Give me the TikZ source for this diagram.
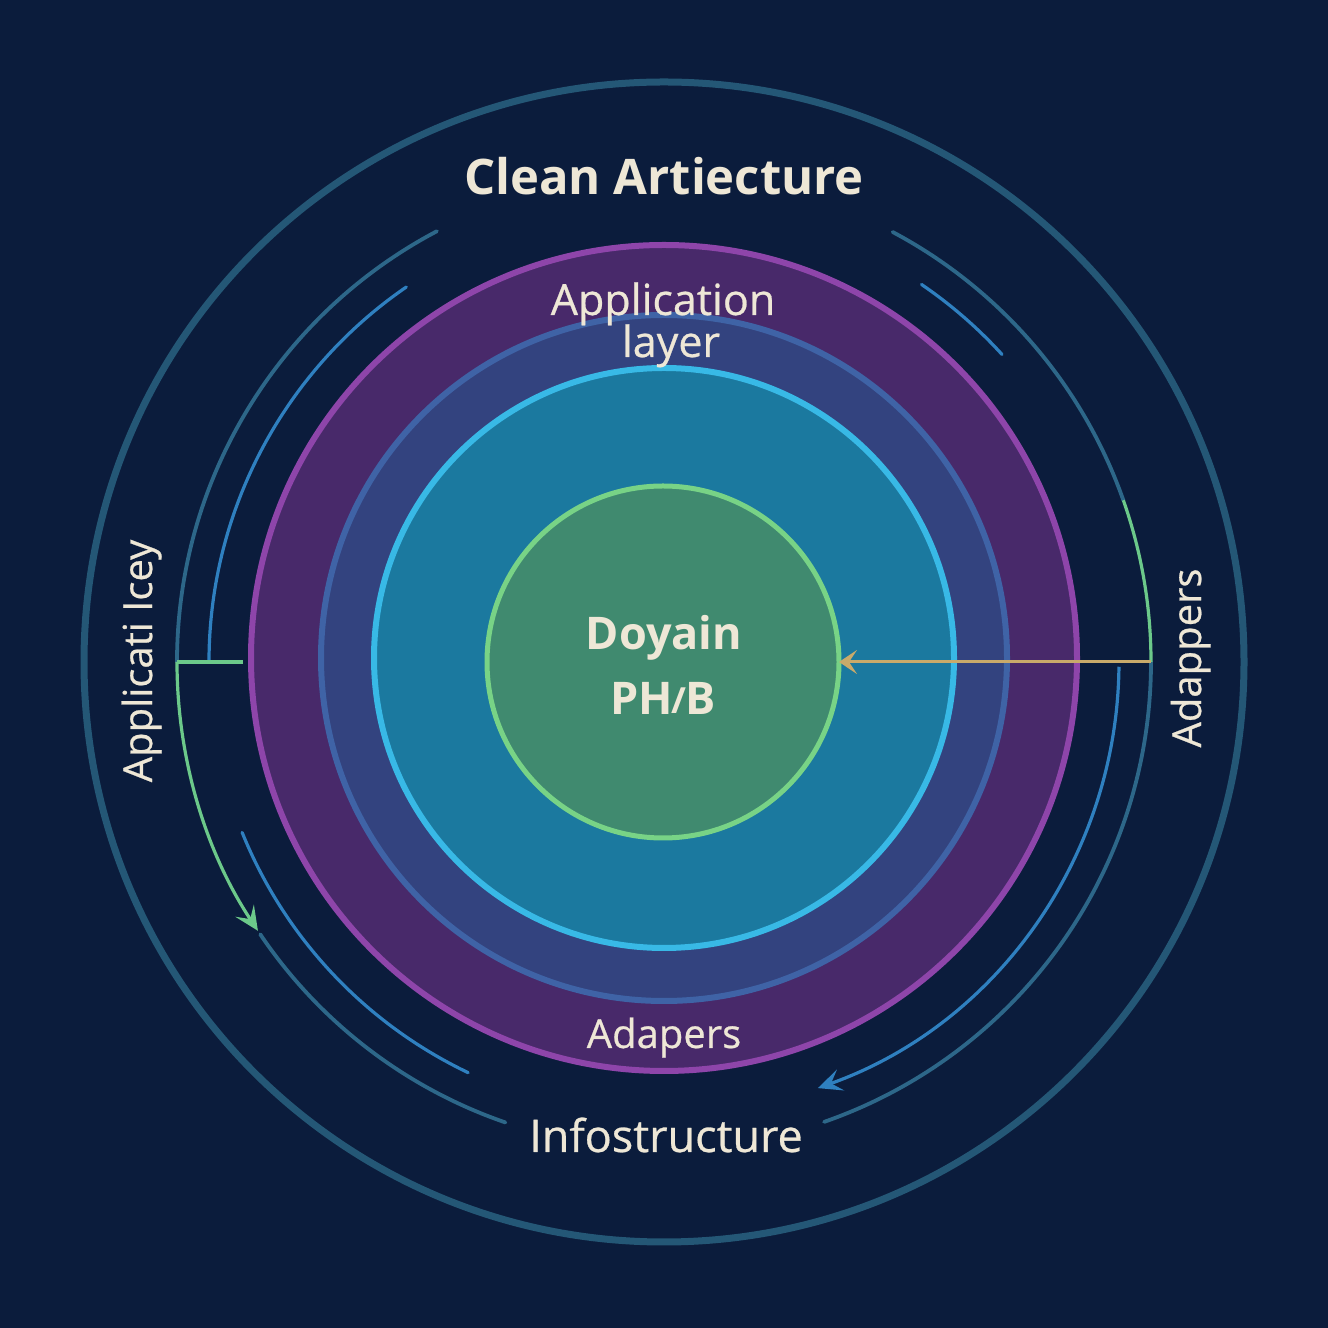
\documentclass[tikz,border=0pt]{standalone}
\usepackage{fontspec}
\setmainfont{Open Sans}
\newfontfamily\medfont[FakeBold=0.6]{Open Sans}
\usetikzlibrary{arrows.meta}
\definecolor{bg}{HTML}{0B1C3C}
\definecolor{outerring}{HTML}{245776}
\definecolor{thinteal}{HTML}{2D6789}
\definecolor{arcblue}{HTML}{2F80C0}
\definecolor{arcgreen}{HTML}{6CC98A}
\definecolor{gold}{HTML}{C9AA6A}
\definecolor{purplefill}{HTML}{48296A}
\definecolor{purpleline}{HTML}{8E45AA}
\definecolor{bluefill}{HTML}{33437F}
\definecolor{blueline}{HTML}{3F63A6}
\definecolor{cyanfill}{HTML}{1B799F}
\definecolor{cyanline}{HTML}{38B9E6}
\definecolor{greenfill}{HTML}{408A6F}
\definecolor{greenline}{HTML}{78D386}
\definecolor{txt}{HTML}{EEE7D6}
\newcommand\mysize[1]{\fontsize{#1}{#1}\selectfont}
\begin{document}
\begin{tikzpicture}[x=1pt,y=1pt,
  disk/.style={circle,inner sep=0pt,outer sep=0pt},
  tealarc/.style={draw=thinteal,line width=3.8pt,line cap=round},
  bluearc/.style={draw=arcblue,line width=3.2pt,line cap=round},
  greenarc/.style={draw=arcgreen,line width=3.2pt},
  tipA/.style={-{Stealth[length=24pt,width=22pt,inset=10pt]}},
  lbl/.style={text=txt,inner sep=0pt,outer sep=0pt,anchor=base}
]
\useasboundingbox (0,0) rectangle (1328,1328);
\fill[bg] (0,0) rectangle (1328,1328);
\coordinate (O) at (664,666);
\coordinate (R) at (664,670);

% outer ring
\node[disk,draw=outerring,line width=7pt,minimum size=1160pt] (outer) at (O) {};

% thin arcs (radius 487)
\coordinate (tL) at ([shift={(117.8:487)}]O);
\coordinate (gL) at ([shift={(180:487)}]O);
\coordinate (tLl) at ([shift={(214:487)}]O);
\coordinate (tR) at ([shift={(62:487)}]O);
\coordinate (gRs) at ([shift={(19.4:487)}]O);
\coordinate (gR) at ([shift={(0:487)}]O);
\draw[tealarc] (tL) arc[start angle=117.8,end angle=180,radius=487];
\draw[tealarc] (tLl) arc[start angle=214,end angle=251,radius=487];
\draw[tealarc] (tR) arc[start angle=62,end angle=19.4,radius=487];
\draw[tealarc] (gR) arc[start angle=0,end angle=-70.8,radius=487];

% blue arcs (radius 455)
\coordinate (bL) at ([shift={(124.5:455)}]O);
\coordinate (bLl) at ([shift={(202:455)}]O);
\coordinate (bR) at ([shift={(55.7:457)}]O);
\coordinate (bRl) at ([shift={(-0.6:455)}]O);
\draw[bluearc] (bL) arc[start angle=124.5,end angle=180,radius=455];
\draw[bluearc] (bLl) arc[start angle=202,end angle=244.5,radius=455];
\draw[bluearc] (bR) arc[start angle=55.7,end angle=42.3,radius=457];

% layered disks
\node[disk,draw=purpleline,fill=purplefill,line width=6pt,minimum size=826pt] (app) at (R) {};
\node[disk,draw=blueline,fill=bluefill,line width=6pt,minimum size=686pt] (adapt) at (R) {};
\node[disk,draw=cyanline,fill=cyanfill,line width=6pt,minimum size=580pt] (use) at (R) {};
\node[disk,draw=greenline,fill=greenfill,line width=5pt,minimum size=352pt] (domain) at (663,666) {};

% connectors
\coordinate (gLend) at ([shift={(66,0)}]gL);
\draw[greenarc,tipA] (gL) arc[start angle=180,end angle=213.5,radius=487];
\draw[greenarc] (gL) -- (gLend);
\draw[greenarc] (gRs) arc[start angle=19.4,end angle=0,radius=487];
\draw[bluearc,line cap=butt,tipA] (bRl) arc[start angle=-0.6,end angle=-70.5,radius=452];
\draw[draw=gold,line width=3pt,-{Stealth[length=18pt,width=24pt,inset=8pt]}] (gR) -- (domain.east);

% labels
\node[lbl,font=\bfseries\mysize{49}] (title) at (664,1133) {Clean Artiecture};
\node[lbl,font=\medfont\mysize{43}] (applayer1) at (663,1013) {Application};
\node[lbl,font=\medfont\mysize{43}] (applayer2) at (671,971) {layer};
\node[lbl,font=\bfseries\mysize{45}] (dom1) at (664,678) {Doyain};
\node[lbl,font=\bfseries\mysize{45}] (dom2) at (663,613) {PH\kern-1pt\raisebox{1pt}{\scalebox{0.8}{/}}\kern-1pt B};
\node[lbl,font=\medfont\mysize{40}] (adap) at (664,280) {Adapers};
\node[lbl,font=\medfont\mysize{45}] (infra) at (666,176) {Infostructure};
\node[lbl,font=\medfont\mysize{40},rotate=90] (leftlbl) at (152,667) {Applicati Icey};
\node[lbl,font=\medfont\mysize{40},rotate=90] (rightlbl) at (1201,670) {Adappers};
\end{tikzpicture}
\end{document}
